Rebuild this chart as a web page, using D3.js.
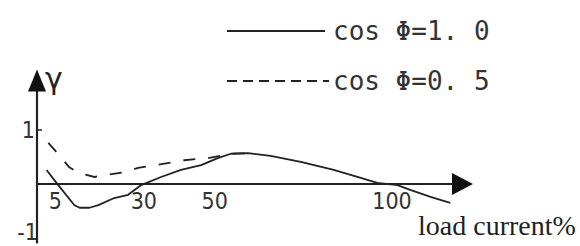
<!DOCTYPE html>
<html>
<head>
<meta charset="utf-8">
<script src="https://cdn.jsdelivr.net/npm/d3@7"></script>
<style>
  body { margin: 0; background: #fff; }
</style>
</head>
<body>
<div id="chart-area"></div>
<script>
// values
const loadSolid = [2.7, 5.5, 10.5, 12, 14.8, 17.3, 21.8, 25.7, 29.4, 35, 40.6, 46.3, 51, 54.7, 59.5, 65.9, 74.4, 83.7, 90.4, 96, 101.7, 105.3, 111, 116.6];
const gammaSolid = [0.26, 0.02, -0.39, -0.44, -0.44, -0.39, -0.26, -0.2, -0.02, 0.13, 0.26, 0.35, 0.48, 0.56, 0.57, 0.52, 0.41, 0.26, 0.13, 0.02, -0.02, -0.11, -0.24, -0.35];
const loadDashed = [3.2, 5.5, 9.1, 11.9, 16.2, 19.5, 25.2, 28.5, 33.6, 41.5, 48.2, 54.7, 59.5];
const gammaDashed = [0.76, 0.59, 0.31, 0.2, 0.13, 0.17, 0.22, 0.3, 0.35, 0.44, 0.48, 0.56, 0.57];
const xTicks = [5, 30, 50, 100];
const yTicks = [1, -1];
const legendLabels = ["cos \u03A6=1. 0", "cos \u03A6=0. 5"];

const width = 580, height = 246;
const ink = "#222";

const svg = d3.select("#chart-area")
    .append("svg")
    .attr("width", width)
    .attr("height", height)
    .style("display", "block");

const x = d3.scaleLinear().domain([0, 123]).range([37, 473]);
const y = d3.scaleLinear().domain([-1, 1]).range([238, 130]);

// x axis (tick labels only, line drawn by hand with arrow)
const xAxis = d3.axisBottom(x)
    .tickValues(xTicks)
    .tickSize(0)
    .tickPadding(9)
    .tickFormat(d => String(d));

const gx = svg.append("g")
    .attr("transform", `translate(0,${y(0)})`)
    .call(xAxis);
gx.select(".domain").remove();
gx.selectAll("text")
    .attr("font-family", "'DejaVu Sans Condensed', 'DejaVu Sans'")
    .attr("font-size", "23px")
    .attr("fill", "#333");

const yAxis = d3.axisLeft(y)
    .tickValues(yTicks)
    .tickSize(0)
    .tickPadding(2)
    .tickFormat(d => String(d));

const gy = svg.append("g")
    .attr("transform", `translate(${x(0)},0)`)
    .call(yAxis);
gy.select(".domain").remove();
gy.selectAll("text")
    .attr("font-family", "'DejaVu Sans Condensed', 'DejaVu Sans'")
    .attr("font-size", "23px")
    .attr("fill", "#333")
    .attr("y", d => d < 0 ? -6 : 0)
    .attr("x", d => d < 0 ? 1 : -2);

// small tick at y=1
svg.append("line")
    .attr("x1", x(0)).attr("x2", x(0) + 5)
    .attr("y1", y(1)).attr("y2", y(1))
    .attr("stroke", ink).attr("stroke-width", 1.5);

// axis lines
svg.append("line")
    .attr("x1", x(0)).attr("x2", x(118))
    .attr("y1", y(0)).attr("y2", y(0))
    .attr("stroke", ink).attr("stroke-width", 2);

svg.append("line")
    .attr("x1", x(0)).attr("x2", x(0))
    .attr("y1", y(-1.1)).attr("y2", y(1.8))
    .attr("stroke", ink).attr("stroke-width", 2.2);

// arrow heads
const xEnd = x(123), yTop = y(2.12);
svg.append("path")
    .attr("d", `M${xEnd},${y(0)} L${xEnd - 21},${y(0) - 11} L${xEnd - 21},${y(0) + 11} Z`)
    .attr("fill", "#111");
svg.append("path")
    .attr("d", `M${x(0)},${yTop} L${x(0) - 9},${yTop + 22} L${x(0) + 9},${yTop + 22} Z`)
    .attr("fill", "#111");

// axis titles
svg.append("text")
    .attr("x", 45)
    .attr("y", 89)
    .attr("font-family", "'DejaVu Sans'")
    .attr("font-size", "30px")
    .attr("fill", ink)
    .text("\u03B3");

svg.append("text")
    .attr("x", 418)
    .attr("y", 235)
    .attr("font-family", "'Liberation Serif', serif")
    .attr("font-size", "28px")
    .attr("fill", ink)
    .text("load current%");

// curves
const line = d3.line()
    .x(d => x(d[0]))
    .y(d => y(d[1]));

svg.append("path")
    .datum(loadSolid.map((v, i) => [v, gammaSolid[i]]))
    .attr("d", line)
    .attr("fill", "none")
    .attr("stroke", ink)
    .attr("stroke-width", 1.8)
    .attr("stroke-linejoin", "round");

svg.append("path")
    .datum(loadDashed.map((v, i) => [v, gammaDashed[i]]))
    .attr("d", line)
    .attr("fill", "none")
    .attr("stroke", ink)
    .attr("stroke-width", 1.8)
    .attr("stroke-dasharray", "12,13");

// legend
const legend = svg.append("g");
const rows = legend.selectAll("g")
    .data(legendLabels)
    .enter().append("g")
    .attr("transform", (d, i) => `translate(0, ${i * 50})`);

rows.append("line")
    .attr("x1", 227).attr("x2", (d, i) => i ? 329 : 325)
    .attr("y1", 31).attr("y2", 31)
    .attr("stroke", ink)
    .attr("stroke-width", 2)
    .attr("stroke-dasharray", (d, i) => i ? "10,6" : null);

rows.append("text")
    .attr("x", 333)
    .attr("y", 40)
    .attr("font-family", "'DejaVu Sans Mono', monospace")
    .attr("font-size", "26px")
    .attr("fill", "#333")
    .style("white-space", "pre")
    .text(d => d);
</script>
</body>
</html>
